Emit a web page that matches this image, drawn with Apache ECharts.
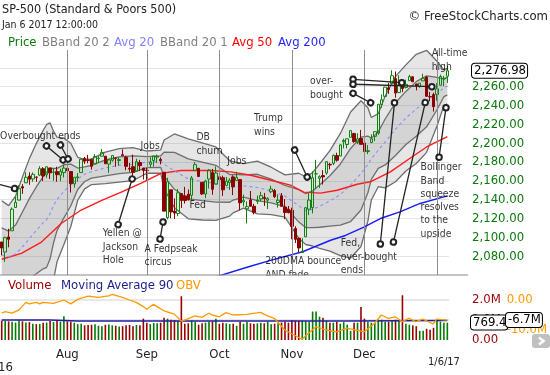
<!DOCTYPE html>
<html><head><meta charset="utf-8">
<script src="https://cdn.jsdelivr.net/npm/echarts@6/dist/echarts.min.js"></script>
<style>html,body{margin:0;padding:0;background:#fff;overflow:hidden}#c{width:550px;height:375px}</style>
</head><body><div id="c"></div>
<script>
const dates = [
'2016-07-05','2016-07-06','2016-07-07','2016-07-08','2016-07-11','2016-07-12','2016-07-13','2016-07-14','2016-07-15','2016-07-18','2016-07-19','2016-07-20','2016-07-21','2016-07-22','2016-07-25','2016-07-26','2016-07-27','2016-07-28','2016-07-29',
'2016-08-01','2016-08-02','2016-08-03','2016-08-04','2016-08-05','2016-08-08','2016-08-09','2016-08-10','2016-08-11','2016-08-12','2016-08-15','2016-08-16','2016-08-17','2016-08-18','2016-08-19','2016-08-22','2016-08-23','2016-08-24','2016-08-25','2016-08-26','2016-08-29','2016-08-30','2016-08-31',
'2016-09-01','2016-09-02','2016-09-06','2016-09-07','2016-09-08','2016-09-09','2016-09-12','2016-09-13','2016-09-14','2016-09-15','2016-09-16','2016-09-19','2016-09-20','2016-09-21','2016-09-22','2016-09-23','2016-09-26','2016-09-27','2016-09-28','2016-09-29','2016-09-30',
'2016-10-03','2016-10-04','2016-10-05','2016-10-06','2016-10-07','2016-10-10','2016-10-11','2016-10-12','2016-10-13','2016-10-14','2016-10-17','2016-10-18','2016-10-19','2016-10-20','2016-10-21','2016-10-24','2016-10-25','2016-10-26','2016-10-27','2016-10-28','2016-10-31',
'2016-11-01','2016-11-02','2016-11-03','2016-11-04','2016-11-07','2016-11-08','2016-11-09','2016-11-10','2016-11-11','2016-11-14','2016-11-15','2016-11-16','2016-11-17','2016-11-18','2016-11-21','2016-11-22','2016-11-23','2016-11-25','2016-11-28','2016-11-29','2016-11-30',
'2016-12-01','2016-12-02','2016-12-05','2016-12-06','2016-12-07','2016-12-08','2016-12-09','2016-12-12','2016-12-13','2016-12-14','2016-12-15','2016-12-16','2016-12-19','2016-12-20','2016-12-21','2016-12-22','2016-12-23','2016-12-27','2016-12-28','2016-12-29','2016-12-30',
'2017-01-03','2017-01-04','2017-01-05','2017-01-06'];

const open = [
2095.1,2084.4,2100.4,2107.0,2131.7,2139.5,2153.8,2157.9,2165.1,2162.0,2164.0,2166.1,2172.9,2166.5,2173.7,2169.0,2169.8,2166.1,2168.8,
2173.2,2169.9,2156.8,2163.5,2168.8,2183.8,2182.2,2182.8,2178.0,2183.7,2186.1,2186.2,2177.8,2181.9,2184.2,2181.6,2187.8,2185.1,2173.3,2175.1,2170.2,2179.5,2173.6,
2171.3,2177.5,2181.6,2185.2,2182.8,2169.1,2120.9,2150.5,2127.9,2125.4,2146.5,2144.0,2145.9,2144.6,2170.9,2173.3,2158.5,2146.0,2161.9,2168.9,2156.5,
2164.3,2163.4,2155.1,2158.2,2164.2,2160.4,2161.4,2137.7,2130.3,2139.7,2133.0,2138.3,2140.8,2142.5,2139.4,2148.5,2149.7,2137.0,2144.1,2132.2,2129.8,
2128.7,2109.4,2099.0,2083.8,2100.6,2129.9,2131.6,2167.5,2162.7,2165.6,2168.3,2177.5,2178.6,2186.9,2186.4,2201.6,2198.6,2206.3,2210.2,2200.8,2205.0,
2200.2,2191.1,2200.7,2207.3,2210.7,2241.1,2249.7,2258.8,2263.3,2268.4,2253.8,2266.8,2259.2,2266.5,2270.5,2262.9,2260.3,2266.2,2270.2,2249.5,2251.6,
2251.6,2261.6,2268.2,2271.1];
const close = [
2088.6,2099.7,2097.9,2129.9,2137.2,2152.1,2152.4,2163.8,2161.7,2166.9,2163.8,2173.0,2165.2,2175.0,2168.5,2169.2,2166.6,2170.1,2173.6,
2170.8,2157.0,2163.8,2164.3,2182.9,2180.9,2181.7,2175.5,2185.8,2184.1,2190.2,2178.2,2182.2,2187.0,2183.9,2182.6,2186.9,2175.4,2172.5,2169.0,2180.4,2176.1,2171.0,
2170.9,2180.0,2186.5,2186.2,2181.3,2127.8,2159.0,2127.0,2125.8,2147.3,2139.2,2139.1,2139.8,2163.1,2177.2,2164.7,2146.1,2159.9,2171.4,2151.1,2168.3,
2161.2,2150.5,2159.7,2160.8,2153.7,2163.7,2136.7,2139.2,2132.6,2133.0,2126.5,2139.6,2144.3,2141.3,2141.2,2151.3,2143.2,2139.4,2133.0,2126.4,2126.2,
2111.7,2097.9,2088.7,2085.2,2131.5,2139.6,2163.3,2167.5,2164.5,2164.2,2180.4,2176.9,2187.1,2181.9,2198.2,2202.9,2204.7,2213.4,2201.7,2204.7,2198.8,
2191.1,2192.0,2204.7,2212.2,2241.4,2246.2,2259.5,2257.0,2271.7,2253.3,2262.0,2258.1,2262.5,2270.8,2265.2,2261.0,2263.8,2268.9,2249.9,2249.3,2238.8,
2257.8,2270.8,2269.0,2276.98];
const low = [
2080.9,2074.0,2089.4,2107.0,2131.7,2139.5,2146.2,2157.9,2155.8,2159.1,2159.0,2165.1,2159.8,2163.2,2162.0,2160.2,2159.1,2159.7,2163.5,
2160.7,2147.6,2152.7,2159.1,2168.8,2178.0,2178.6,2172.0,2178.0,2179.1,2186.1,2178.1,2168.5,2180.5,2175.1,2176.0,2186.8,2171.3,2169.7,2160.4,2170.2,2170.4,2161.4,
2161.1,2173.6,2175.1,2179.1,2177.5,2127.8,2119.1,2120.3,2119.6,2122.4,2131.2,2135.9,2139.2,2139.6,2170.9,2164.0,2145.0,2141.6,2151.8,2145.2,2156.5,
2154.8,2144.0,2155.1,2150.3,2144.9,2160.4,2128.8,2132.8,2114.7,2133.0,2124.4,2135.5,2138.2,2133.4,2130.1,2146.9,2141.9,2131.6,2132.5,2119.4,2125.5,
2097.9,2094.0,2083.8,2083.8,2100.6,2123.6,2125.4,2151.2,2152.5,2156.1,2166.4,2172.2,2176.7,2180.4,2186.4,2194.5,2194.5,2206.3,2200.4,2198.9,2198.8,
2187.4,2188.4,2200.0,2202.2,2208.9,2237.6,2249.2,2252.4,2263.3,2248.4,2253.8,2254.2,2258.2,2266.2,2265.2,2256.1,2258.8,2266.2,2249.1,2244.6,2233.6,
2245.1,2261.6,2260.5,2264.1];
const high = [
2095.1,2100.7,2109.1,2131.7,2143.2,2155.4,2156.5,2169.1,2169.1,2169.0,2164.6,2175.6,2174.6,2175.1,2173.7,2173.5,2175.0,2172.9,2177.1,
2178.3,2170.2,2163.8,2168.2,2182.9,2185.4,2187.7,2183.4,2188.5,2186.3,2193.8,2186.2,2183.1,2187.0,2185.0,2185.2,2193.4,2186.7,2179.0,2187.9,2183.5,2182.3,2173.8,
2173.6,2184.9,2186.6,2187.9,2184.9,2169.1,2163.3,2150.5,2141.3,2151.3,2146.5,2153.6,2150.8,2165.1,2180.0,2173.8,2158.5,2161.1,2172.4,2172.7,2175.3,
2164.4,2165.5,2164.0,2162.9,2165.9,2169.6,2161.6,2145.4,2138.2,2149.2,2135.6,2144.4,2148.4,2147.2,2142.6,2154.8,2151.4,2145.7,2147.1,2140.7,2133.3,
2131.5,2111.8,2099.9,2099.1,2132.0,2146.9,2170.1,2182.3,2165.9,2171.4,2180.8,2179.2,2188.1,2189.9,2198.7,2204.8,2204.7,2213.4,2211.1,2210.5,2214.1,
2202.6,2198.0,2209.4,2212.8,2241.6,2251.7,2259.8,2264.0,2277.5,2276.2,2272.1,2268.1,2267.5,2272.6,2271.2,2263.2,2263.8,2273.8,2271.3,2254.5,2253.6,
2263.9,2272.8,2271.5,2282.1];

// volume, millions
const volume = [
0.95,0.94,0.92,0.90,0.86,0.97,0.92,0.86,0.88,0.80,0.78,0.79,0.85,0.86,0.93,0.88,0.97,0.90,1.17,
0.92,0.90,0.85,0.78,0.80,0.72,0.74,0.75,0.78,0.70,0.68,0.75,0.76,0.72,0.70,0.66,0.68,0.72,0.74,0.68,0.74,0.72,1.05,
0.85,0.78,0.84,0.82,0.85,1.10,1.05,1.00,0.98,0.95,2.15,0.80,0.82,0.95,0.90,0.75,0.82,0.85,0.90,0.92,1.05,
0.80,0.85,0.82,0.78,0.80,0.70,0.90,0.80,0.88,0.82,0.80,0.82,0.85,0.82,0.90,0.78,0.80,0.82,0.86,0.90,0.85,
0.98,0.95,0.93,0.95,0.92,0.90,1.40,1.40,1.15,1.10,0.95,0.85,0.85,0.90,0.80,0.88,0.75,0.45,0.85,0.85,1.62,
1.05,0.90,0.85,0.85,1.00,1.00,0.90,0.90,0.95,1.00,0.95,2.20,0.80,0.75,0.72,0.68,0.45,0.45,0.55,0.50,0.60,
0.95,0.90,0.85,0.85];

// Bollinger bands (20) read at these bar positions
const bbIdx = [0,2,4,6,8,10,12,13,14,15,16,18,20,22,24,26,30,34,38,42,46,47,50,54,58,62,66,67,70,74,78,82,86,88,90,92,95,98,101,104,106,107,109,111,114,117,120,123,126,128,129];
const bbMid = [2081.2,2079.5,2082.3,2089.8,2098.6,2107.4,2115.6,2118.7,2125.3,2133.7,2140.2,2148.9,2155.7,2162.2,2167.1,2169.7,2173.8,2176.5,2177.7,2179.9,2180.5,2177.6,2170.6,2162.1,2159.4,2157.0,2152.0,2153.2,2154.6,2153.0,2149.3,2143.9,2133.5,2128.4,2129.8,2133.1,2138.7,2145.3,2155.6,2167.7,2177.5,2183.5,2192.6,2201.3,2215.0,2226.8,2236.4,2244.5,2252.7,2258.9,2260.6];
const bbUp2 = [2138.8,2133.7,2143.7,2164.0,2183.6,2199.6,2213.6,2219.9,2221.5,2212.7,2206.4,2205.3,2199.9,2185.0,2182.7,2183.3,2190.6,2194.3,2195.2,2191.7,2192.7,2203.4,2209.8,2204.5,2200.4,2196.0,2181.4,2180.4,2178.2,2181.0,2174.5,2166.3,2168.1,2164.4,2168.8,2177.9,2192.1,2210.1,2233.2,2245.1,2237.7,2227.3,2231.4,2250.1,2271.0,2283.2,2294.4,2298.7,2287.1,2277.9,2279.4];
const bbLo2 = [2023.6,2025.3,2020.9,2015.6,2013.6,2015.2,2017.6,2017.5,2029.1,2054.7,2074.0,2092.5,2111.5,2139.4,2151.5,2156.1,2157.0,2158.7,2160.2,2168.1,2168.3,2151.8,2131.4,2119.7,2118.4,2118.0,2122.6,2126.0,2131.0,2125.0,2124.1,2121.5,2098.9,2092.4,2090.8,2088.3,2085.3,2080.5,2078.0,2090.3,2117.3,2139.7,2153.8,2152.5,2159.0,2170.4,2178.4,2190.3,2218.3,2239.9,2241.8];
const bbUp1 = [2110.0,2106.6,2113.0,2126.9,2141.1,2153.5,2164.6,2169.3,2173.4,2173.2,2173.3,2177.1,2177.8,2173.6,2174.9,2176.5,2182.2,2185.4,2186.5,2185.8,2186.6,2190.5,2190.2,2183.3,2179.9,2176.5,2166.7,2166.8,2166.4,2167.0,2161.9,2155.1,2150.8,2146.4,2149.3,2155.5,2165.4,2177.7,2194.4,2206.4,2207.6,2205.4,2212.0,2225.7,2243.0,2255.0,2265.4,2271.6,2269.9,2268.4,2270.0];
const bbLo1 = [2052.4,2052.4,2051.6,2052.7,2056.1,2061.3,2066.6,2068.1,2077.2,2094.2,2107.1,2120.7,2133.6,2150.8,2159.3,2162.9,2165.4,2167.6,2169.0,2174.0,2174.4,2164.7,2151.0,2140.9,2138.9,2137.5,2137.3,2139.6,2142.8,2139.0,2136.7,2132.7,2116.2,2110.4,2110.3,2110.7,2112.0,2112.9,2116.8,2129.0,2147.4,2161.6,2173.2,2176.9,2187.0,2198.6,2207.4,2217.4,2235.5,2249.4,2251.2];

const ma50Idx = [0,5.7,11.5,17.3,23,28.8,34.6,40.4,46.1,51.9,60.5,66.3,72.1,77.9,83.6,87.4,92.3,97.1,102.9,106.7,112.5,118.2,123,129];
const ma50 = [2076.7,2083,2095,2115,2129,2139,2148,2157.5,2168,2171,2171,2169.5,2166,2160.7,2155.4,2148,2147,2150,2156.4,2159,2169.5,2184,2196,2207];
const ma200Idx = [62,71,77.8,87.1,95.2,99.5,104.7,109.6,115.3,121.1,129];
const ma200 = [2058,2068.2,2075.6,2084.7,2096.9,2102,2110.7,2120,2127,2136,2144];

const ma90Idx = [0,14,22,40,60,79,100,115,129];
const ma90 = [0.98,0.98,0.93,0.93,0.93,0.93,0.93,0.95,0.96];
const ma90Tag = '769.4';

const obvIdx = [0,1,3,5,7,8,10,11,12,15,18,20,22,25,28,31,32,35,37,39,41,42,44,45,47,50,52,53,56,58,60,61,63,65,67,71,75,77,79,82,87,91,94,97,100,105,108,110,112,114,116,118,120,122,125,126,129];
const obv = [-4.4,-3.9,-4.4,-3.3,-0.8,-1.3,-0.8,-1.3,-0.8,-1.1,0,-1.3,0.2,1.3,0.9,1.4,1.9,0.9,0,-0.8,-2.2,-3.1,-1.4,-2.2,-3.6,-4.7,-7.0,-6.7,-5.3,-5.8,-4.4,-5.0,-5.6,-4.2,-5.0,-4.8,-4.1,-5.3,-6.1,-10.0,-13.1,-8.9,-10.0,-10.6,-9.4,-10.6,-7.8,-5.0,-6.1,-5.6,-7.2,-6.1,-7.2,-6.4,-8.0,-6.4,-6.7];

const monthNames = ['Jan','Feb','Mar','Apr','May','Jun','Jul','Aug','Sep','Oct','Nov','Dec'];

// annotation texts: [bar position, price, text]
const notes = [
 [-0.32, 2213.5, 'Overbought ends'],
 [29.4, 2110.5, 'Yellen @\nJackson\nHole'],
 [41.5, 2094.0, 'A Fedpseak\ncircus'],
 [40.35, 2202.9, 'Jobs'],
 [56.5, 2212.4, 'DB\nchurn'],
 [65.45, 2186.9, 'Jobs'],
 [54.5, 2140.2, 'Fed'],
 [73.2, 2232.6, 'Trump\nwins'],
 [76.4, 2080.7, '200DMA bounce\nAND fade'],
 [89.4, 2271.9, 'over-\nbought'],
 [98.3, 2099.8, 'Fed,\nover-bought\nends'],
 [124.6, 2301.7, 'All-time\nhigh'],
 [121.4, 2180.6, 'Bollinger\nBand\nsqueeze\nresolves\nto the\nupside']
];
// annotation pointer lines: [pos1, price1, pos2, price2, circle at start]
const noteLines = [
 [12.95, 2197.1, 17.77, 2182.2, 1],
 [17.0, 2198.1, 19.2, 2183.2, 1],
 [-0.5, 2156.0, 3.72, 2151.9, 0],
 [33.7, 2113.6, 37.76, 2162.0, 1],
 [45.83, 2098.2, 46.7, 2116.3, 1],
 [84.8, 2192.8, 88.43, 2164.1, 1],
 [101.7, 2267.9, 115.8, 2264.3, 1],
 [101.7, 2262.6, 124.5, 2260.0, 1],
 [101.7, 2253.0, 106.8, 2243.0, 1],
 [109.6, 2092.9, 113.7, 2243.0, 1],
 [113.4, 2095.0, 122.6, 2243.2, 1],
 [126.6, 2185.0, 128.6, 2237.7, 1]
];

const FF = '"DejaVu Sans Condensed","DejaVu Sans",sans-serif';
const N = dates.length;
const GL = -1.63, GW = 450.7;
const monthStarts = [];
for (let k = 1; k < N; k++) if (dates[k].slice(5,7) !== dates[k-1].slice(5,7)) monthStarts.push(k);

const pair = (xs, ys) => xs.map((x, k) => [x, ys[k]]);
function band(up, lo, fill) {
  return {
    type: 'custom', xAxisIndex: 1, yAxisIndex: 0, z: 1, silent: true, clip: true,
    data: [[bbIdx[0], up[0]]],
    renderItem: (params, api) => {
      const pts = [];
      for (let k = 0; k < bbIdx.length; k++) pts.push(api.coord([bbIdx[k], up[k]]));
      for (let k = bbIdx.length - 1; k >= 0; k--) pts.push(api.coord([bbIdx[k], lo[k]]));
      return { type: 'polygon', shape: { points: pts }, style: { fill: fill } };
    }
  };
}
function bline(xs, ys, color, width, type, z) {
  return { type: 'line', xAxisIndex: 1, yAxisIndex: 0, data: pair(xs, ys), symbol: 'none', silent: true,
    z: z, lineStyle: { color: color, width: width, type: type } };
}

const chart = echarts.init(document.getElementById('c'), null, { renderer: 'canvas' });
const fmtPrice = v => v.toLocaleString('en-US', { minimumFractionDigits: 2, maximumFractionDigits: 2 });

const option = {
  animation: false,
  backgroundColor: '#fff',
  textStyle: { fontFamily: FF },
  grid: [
    { left: GL, top: 50, width: GW, height: 225 },
    { left: GL, top: 279, width: GW, height: 61 },
    { left: GL, top: 270, width: GW, height: 90 }
  ],
  xAxis: [
    { type: 'category', gridIndex: 0, data: dates, boundaryGap: true, show: false },
    { type: 'value', gridIndex: 0, min: -0.5, max: N - 0.5, show: false },
    { type: 'category', gridIndex: 1, data: dates, boundaryGap: true, z: 8,
      axisLine: { show: false }, axisTick: { show: false }, splitLine: { show: false },
      axisLabel: { show: true, margin: 8, color: '#222', fontSize: 13, fontFamily: FF,
        interval: (i) => monthStarts.indexOf(i) >= 0 && dates[i].slice(5,7) !== '01',
        formatter: (v) => monthNames[+v.slice(5,7) - 1] } },
    { type: 'value', gridIndex: 1, min: -0.5, max: N - 0.5, show: false },
    { type: 'value', gridIndex: 2, min: -0.5, max: N - 0.5, show: false }
  ],
  yAxis: [
    { type: 'value', gridIndex: 0, position: 'right', min: 2060, max: 2299, interval: 20,
      axisLine: { show: false }, axisTick: { show: false },
      splitLine: { show: true, showMinLine: false, showMaxLine: false, lineStyle: { color: '#e4e4e4', width: 1 } },
      axisLabel: { margin: 23, align: 'left', color: '#0b7a0b', fontSize: 13, fontFamily: FF,
        formatter: v => (v <= 2060 || v >= 2280) ? '' : fmtPrice(v) } },
    { type: 'value', gridIndex: 1, position: 'right', min: 0, max: 3, interval: 1, z: 8,
      axisLine: { show: false }, axisTick: { show: false },
      splitLine: { show: true, showMinLine: false, showMaxLine: false, lineStyle: { color: '#e0e0e0', width: 1.5 } },
      axisLabel: { margin: 23, align: 'left', color: '#990000', fontSize: 13, fontFamily: FF,
        formatter: v => v === 0 ? '0.00' : (v >= 3 ? '' : v.toFixed(1) + 'M') } },
    { type: 'value', gridIndex: 2, position: 'right', min: -20, max: 10, interval: 10, z: 8,
      axisLine: { show: false }, axisTick: { show: false }, splitLine: { show: false },
      axisLabel: { margin: 58, align: 'left', color: '#ff9900', fontSize: 13, fontFamily: FF,
        formatter: v => v === 0 ? '0.00' : (v === -10 ? '-10.0M' : '') } }
  ],
  series: [
    band(bbUp2, bbLo2, 'rgba(120,120,120,0.19)'),
    band(bbUp1, bbLo1, 'rgba(120,120,120,0.16)'),
    bline(bbIdx, bbUp2, '#6e6e6e', 1.3, 'solid', 2),
    bline(bbIdx, bbLo2, '#6e6e6e', 1.3, 'solid', 2),
    bline(bbIdx, bbUp1, '#6e6e6e', 1.3, 'solid', 2),
    bline(bbIdx, bbLo1, '#6e6e6e', 1.3, 'solid', 2),
    Object.assign(bline(ma200Idx, ma200, '#1a1aff', 1.4, 'solid', 3), {
      markLine: { silent: true, symbol: ['none', 'none'], label: { show: false },
        lineStyle: { color: '#8d8d8d', width: 1, type: 'solid' },
        data: monthStarts.map(i => ({ xAxis: i })) } }),
    bline(ma50Idx, ma50, '#ff1a1a', 1.4, 'solid', 3),
    bline(bbIdx, bbMid, '#8c8cff', 1.1, [3, 3], 3),
    { type: 'candlestick', xAxisIndex: 0, yAxisIndex: 0, z: 4, silent: true, barWidth: 2.9,
      data: dates.map((d, k) => [open[k], close[k], low[k], high[k]]),
      itemStyle: { color: 'rgba(255,255,255,0)', color0: '#8b0000', borderColor: '#0a850a', borderColor0: '#8b0000', borderWidth: 1 } },
    { type: 'scatter', xAxisIndex: 1, yAxisIndex: 0, z: 5, clip: false, silent: true,
      symbol: 'circle', symbolSize: 1, itemStyle: { color: 'rgba(0,0,0,0)' },
      data: notes.map(n => ({ value: [n[0], n[1]], name: n[2] })),
      label: { show: true, position: [0, 0], align: 'left', verticalAlign: 'top', formatter: p => p.name,
        color: '#000', fontSize: 10.3, lineHeight: 13.3, fontFamily: FF },
      markLine: { silent: true, animation: false, label: { show: false }, symbolSize: 5.5,
        lineStyle: { color: '#222', width: 1.3, type: 'solid' },
        data: noteLines.map(l => [
          { coord: [l[0], l[1]], symbol: l[4] ? 'emptyCircle' : 'none' },
          { coord: [l[2], l[3]], symbol: 'emptyCircle' }]) } },
    { type: 'bar', xAxisIndex: 2, yAxisIndex: 1, z: 9, silent: true, barWidth: 1.6,
      data: volume.map((v, k) => ({ value: v, itemStyle: { color: close[k] >= open[k] ? '#007a00' : '#990000' } })) },
    { type: 'line', xAxisIndex: 3, yAxisIndex: 1, z: 9, silent: true, symbol: 'none',
      data: pair(ma90Idx, ma90), lineStyle: { color: '#20209a', width: 1.5 },
      markLine: { silent: true, symbol: ['none', 'none'], label: { show: false },
        lineStyle: { color: '#8d8d8d', width: 1, type: 'solid' },
        data: monthStarts.map(i => ({ xAxis: i })) } },
    { type: 'line', xAxisIndex: 4, yAxisIndex: 2, z: 9, silent: true, symbol: 'none',
      data: pair(obvIdx, obv), lineStyle: { color: '#ff9900', width: 1.3 } }
  ]
};
chart.setOption(option);

const yPrice = chart.convertToPixel({ yAxisIndex: 0 }, close[N - 1]);
const yVol = chart.convertToPixel({ yAxisIndex: 1 }, ma90[ma90.length - 1]);
const yObv = chart.convertToPixel({ yAxisIndex: 2 }, obv[obv.length - 1]);
const txt = (x, y, s, color, size, extra) => Object.assign({ type: 'text', x: x, y: y, z: 10, silent: true,
  style: Object.assign({ text: s, fill: color, font: size + 'px ' + FF, verticalAlign: 'middle' }, extra || {}) });
const tag = (x, y, s) => txt(x, y, s, '#000', 13, { backgroundColor: '#fff', borderColor: '#000', borderWidth: 1, borderRadius: 3, padding: [1, 1, 0, 2] });

chart.setOption({ graphic: [
  { type: 'rect', z: 6, silent: true, shape: { x: 0, y: 275.5, width: 550, height: 100 }, style: { fill: '#fff' } },
  { type: 'line', z: 8, silent: true, shape: { x1: 0, y1: 275, x2: 468, y2: 275 }, style: { stroke: '#8a8a8a', lineWidth: 1 } },
  txt(2, 10, 'SP-500 (Standard & Poors 500)', '#222', 12.5),
  txt(2, 25, 'Jan 6 2017 12:00:00', '#222', 10.5),
  txt(548, 17, '\u00a9 FreeStockCharts.com', '#222', 13, { align: 'right' }),
  txt(8, 43, 'Price', '#0a7a0a', 13),
  txt(42, 43, 'BBand 20 2', '#808080', 13),
  txt(114, 43, 'Avg 20', '#8080ff', 13),
  txt(160, 43, 'BBand 20 1', '#808080', 13),
  txt(232, 43, 'Avg 50', '#ff0000', 13),
  txt(278, 43, 'Avg 200', '#1f1fff', 13),
  txt(8, 286, 'Volume', '#a00000', 13),
  txt(61, 286, 'Moving Average 90', '#1c1c8c', 13),
  txt(176, 286, 'OBV', '#ff9900', 13),
  txt(13, 368, '2016', '#222', 13, { align: 'right' }),
  txt(428, 362, '1/6/17', '#222', 11),
  { type: 'rect', z: 10, silent: true, shape: { x: 532, y: 334, width: 18, height: 14, r: 3 }, style: { fill: '#c0c0c0' } },
  { type: 'polyline', z: 11, silent: true, shape: { points: [[539, 337.5], [543.5, 341], [539, 344.5]] }, style: { stroke: '#fff', lineWidth: 2.5, fill: null } },
  tag(472, yPrice, fmtPrice(close[N - 1])),
  tag(471, yVol + 2, ma90Tag),
  tag(506, yObv, obv[obv.length - 1].toFixed(1) + 'M')
] });
</script>
</body></html>
